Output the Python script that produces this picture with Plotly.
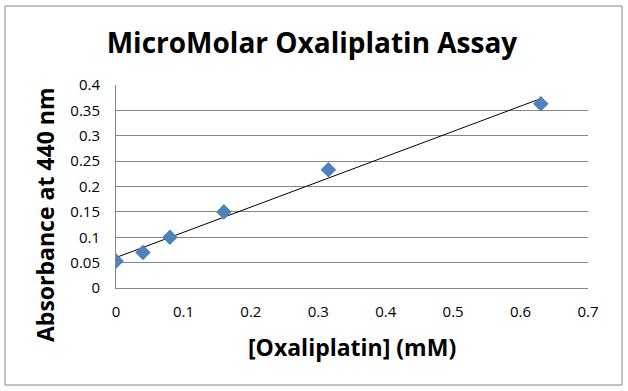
import numpy as np
import plotly.graph_objects as go

# Data
conc_mM = [0.0, 0.04, 0.08, 0.16, 0.315, 0.63]
absorbance = [0.053, 0.070, 0.100, 0.150, 0.233, 0.363]
x_ticks = [0, 0.1, 0.2, 0.3, 0.4, 0.5, 0.6, 0.7]
y_ticks = [0, 0.05, 0.1, 0.15, 0.2, 0.25, 0.3, 0.35, 0.4]

# Linear trendline (least squares)
slope, intercept = np.polyfit(conc_mM, absorbance, 1)
tx = [min(conc_mM), max(conc_mM)]
ty = [slope * v + intercept for v in tx]

font_main = "'Open Sans', Lato, sans-serif"

fig = go.Figure()
fig.add_trace(go.Scatter(x=tx, y=ty, mode="lines",
                         line=dict(color="black", width=1), showlegend=False,
                         hoverinfo="skip"))
fig.add_trace(go.Scatter(x=conc_mM, y=absorbance, mode="markers",
                         marker=dict(symbol="diamond", size=12, color="#4F81BD"),
                         showlegend=False))

L, R, T, B = 116, 40, 85, 103
W, H = 628, 391
pw, ph = W - L - R, H - T - B


def px_x(p):
    return (p - L) / pw


def px_y(p):
    return (H - B - p) / ph


fig.update_layout(
    width=W, height=H,
    margin=dict(l=L, r=R, t=T, b=B),
    paper_bgcolor="white", plot_bgcolor="white",
    font=dict(family=font_main, color="black"),
    title=dict(text="<b>MicroMolar Oxaliplatin Assay</b>",
               x=312 / W, xanchor="center", y=1 - 43 / H, yanchor="middle",
               font=dict(size=28, family=font_main, color="black")),
    xaxis=dict(range=[0, 0.7], tickvals=x_ticks, ticktext=[f"{v:g}" for v in x_ticks],
               showgrid=False, zeroline=False, showline=True, linecolor="#868686",
               linewidth=1, ticks="", tickfont=dict(size=15), ticklabelstandoff=10),
    yaxis=dict(range=[0, 0.4], tickvals=y_ticks, ticktext=[f"{v:g}" for v in y_ticks],
               showgrid=True, gridcolor="#868686", gridwidth=1, zeroline=False,
               showline=True, linecolor="#868686", linewidth=1, ticks="",
               tickfont=dict(size=15), ticklabelstandoff=12),
    annotations=[
        dict(text="<b>[Oxaliplatin] (mM)</b>", xref="paper", yref="paper",
             x=px_x(352), y=px_y(347), xanchor="center", yanchor="middle",
             showarrow=False, font=dict(size=23)),
        dict(text="<b>Absorbance at 440 nm</b>", xref="paper", yref="paper",
             x=px_x(45), y=px_y(215), xanchor="center", yanchor="middle",
             textangle=-90, showarrow=False, font=dict(size=23)),
    ],
    shapes=[dict(type="rect", xref="paper", yref="paper",
                 x0=px_x(5), x1=px_x(622), y0=px_y(385), y1=px_y(6),
                 line=dict(color="#868686", width=1), fillcolor="rgba(0,0,0,0)",
                 layer="below")],
)

fig.write_html("out.html", config={"displayModeBar": False},
               post_script="document.body.style.margin='0';document.body.style.padding='0';")
